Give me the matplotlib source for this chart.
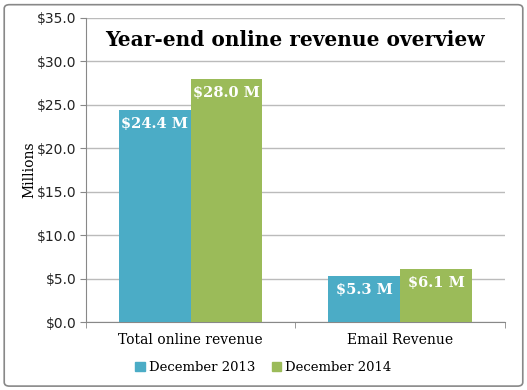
import numpy as np
import matplotlib
matplotlib.use("Agg")
import matplotlib.pyplot as plt
from matplotlib.patches import FancyBboxPatch, Patch

CATEGORIES = ["Total online revenue", "Email Revenue"]
SERIES = ["December 2013", "December 2014"]
DEC_2013 = [24.4, 5.3]
DEC_2014 = [28.0, 6.1]
COLORS = ["#4BACC6", "#9BBB59"]


def plot():
    fig = plt.figure(figsize=(5.27, 3.90), dpi=100)
    ax = fig.add_axes([0.163, 0.174, 0.795, 0.780])

    x = np.arange(len(CATEGORIES))
    w = 0.343
    for i, (vals, col) in enumerate(zip([DEC_2013, DEC_2014], COLORS)):
        pos = x + (i - 0.5) * w
        ax.bar(pos, vals, width=w, color=col, zorder=3)
        for p, v in zip(pos, vals):
            ax.annotate(f"${v:.1f} M", xy=(p, v), xytext=(0, -5),
                        textcoords="offset points", ha="center", va="top",
                        color="white", fontsize=10.5, fontweight="bold",
                        family="DejaVu Serif", zorder=4)

    ax.set_xlim(-0.5, 1.5)
    ax.set_ylim(0, 35)
    ax.set_yticks(np.arange(0, 35.1, 5))
    ax.set_yticklabels([f"${t:.1f}" for t in np.arange(0, 35.1, 5)],
                       fontsize=10, color="#222222")
    ax.set_xticks(x)
    ax.set_xticklabels(CATEGORIES, fontsize=10, family="DejaVu Serif")
    ax.tick_params(axis="x", length=0, pad=8)
    ax.set_xticks([-0.5, 0.5, 1.5], minor=True)
    ax.tick_params(axis="x", which="minor", length=4, color="#888888")
    ax.tick_params(axis="y", length=4, color="#888888", pad=3)
    ax.grid(axis="y", color="#BBBBBB", lw=1, zorder=0)
    for s in ["top", "right"]:
        ax.spines[s].set_visible(False)
    for s in ["left", "bottom"]:
        ax.spines[s].set_color("#888888")
    ax.set_ylabel("Millions", fontsize=10, family="DejaVu Serif", labelpad=0)

    ax.text(0.5, 0.928, "Year-end online revenue overview", transform=ax.transAxes,
            ha="center", va="center", fontsize=14.5, fontweight="bold",
            family="DejaVu Serif")

    handles = [Patch(color=c, label=l) for c, l in zip(COLORS, SERIES)]
    fig.legend(handles=handles, loc="center", bbox_to_anchor=(0.5, 0.057),
               ncol=2, frameon=False, handlelength=0.7, handleheight=0.7,
               handletextpad=0.3, columnspacing=1.3,
               prop={"family": "DejaVu Serif", "size": 9.5})

    fig.patches.append(FancyBboxPatch((0.008, 0.01), 0.984, 0.978,
                                      boxstyle="round,pad=0,rounding_size=0.01",
                                      transform=fig.transFigure, fill=False,
                                      edgecolor="#888888", lw=1.2))
    fig.savefig("out.png", dpi=100)
    plt.close(fig)


if __name__ == "__main__":
    plot()
